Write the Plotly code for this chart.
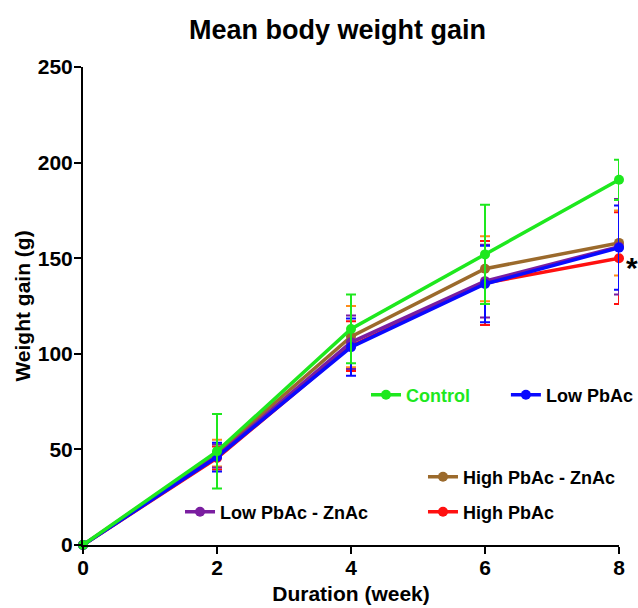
import plotly.graph_objects as go

weeks = [0, 2, 4, 6, 8]

names = ["High PbAc", "High PbAc - ZnAc", "Low PbAc - ZnAc", "Low PbAc", "Control"]
means = {
    "Control":          [0, 49, 113, 152, 191],
    "Low PbAc":         [0, 46, 103.5, 136.5, 155.5],
    "Low PbAc - ZnAc":  [0, 46.5, 106, 138, 156],
    "High PbAc - ZnAc": [0, 48, 109, 144.5, 158],
    "High PbAc":        [0, 45.5, 104, 137, 150],
}
errors = {
    "Control":          [0, 19.5, 18, 26, 10.5],
    "Low PbAc":         [0, 7.5, 15, 20, 22],
    "Low PbAc - ZnAc":  [0, 6, 14, 19, 25],
    "High PbAc - ZnAc": [0, 7, 16, 17, 17],
    "High PbAc":        [0, 6, 13, 22, 24],
}
line_colors = {
    "Control": "#1ee81e",
    "Low PbAc": "#0a0aff",
    "Low PbAc - ZnAc": "#7a1ea0",
    "High PbAc - ZnAc": "#9b6a2c",
    "High PbAc": "#ff1010",
}
err_colors = {
    "Control": "#1ee81e",
    "Low PbAc": "#0a0aff",
    "Low PbAc - ZnAc": "#7a1ea0",
    "High PbAc - ZnAc": "#ff8c1a",
    "High PbAc": "#ff1010",
}
legend_ids = {
    "Control": "legend",
    "Low PbAc": "legend2",
    "High PbAc - ZnAc": "legend3",
    "Low PbAc - ZnAc": "legend4",
    "High PbAc": "legend5",
}
# plot-area-relative positions (x of legend left edge, y of legend centre)
legend_pos = {
    "legend": (0.528, 0.3138),
    "legend2": (0.789, 0.3138),
    "legend3": (0.6343, 0.1423),
    "legend4": (0.181, 0.069),
    "legend5": (0.6343, 0.069),
}

fig = go.Figure()
for n in names:
    fig.add_trace(go.Scatter(
        x=weeks, y=means[n], name=n, mode="lines+markers",
        line=dict(color=line_colors[n], width=3.5),
        marker=dict(color=line_colors[n], size=10),
        error_y=dict(type="data", array=errors[n], visible=True,
                     color=err_colors[n], thickness=2, width=5),
        cliponaxis=False,
        legend=legend_ids[n],
        showlegend=True,
    ))

font_family = "Liberation Sans, Arial, sans-serif"
layout_legends = {}
for lid, (lx, ly) in legend_pos.items():
    txt_color = "#1ee81e" if lid == "legend" else "black"
    layout_legends[lid] = dict(
        x=lx, y=ly, xanchor="left", yanchor="middle",
        bgcolor="rgba(0,0,0,0)", borderwidth=0,
        font=dict(family=font_family, size=18, color=txt_color, weight="bold"),
        itemwidth=30,
    )

fig.add_annotation(x=8, y=150, text="<b>*</b>", showarrow=False,
                   xshift=13, yshift=-9,
                   font=dict(family=font_family, size=30, color="black"))

fig.update_layout(
    width=638, height=608,
    showlegend=True,
    margin=dict(l=83, r=19, t=67, b=63, autoexpand=False),
    paper_bgcolor="white", plot_bgcolor="white",
    title=dict(text="<b>Mean body weight gain</b>", x=337.5 / 638, xanchor="center",
               y=1 - 30 / 608, yanchor="middle",
               font=dict(family=font_family, size=27, color="black")),
    xaxis=dict(range=[0, 8], tickvals=[0, 2, 4, 6, 8], showgrid=False, zeroline=False,
               showline=True, linecolor="black", linewidth=2, automargin=False,
               ticks="outside", ticklen=7, tickwidth=2, tickcolor="black",
               ticklabelstandoff=-4,
               tickfont=dict(family=font_family, size=21, color="black", weight="bold"),
               title=dict(text="<b>Duration (week)</b>", standoff=8,
                          font=dict(family=font_family, size=21, color="black"))),
    yaxis=dict(range=[0, 250], tickvals=[0, 50, 100, 150, 200, 250], showgrid=False,
               zeroline=False, showline=True, linecolor="black", linewidth=2,
               automargin=False,
               ticks="outside", ticklen=7, tickwidth=2, tickcolor="black",
               ticklabelstandoff=-3,
               tickfont=dict(family=font_family, size=21, color="black", weight="bold"),
               title=dict(text="<b>Weight gain (g)</b>", standoff=1,
                          font=dict(family=font_family, size=21, color="black"))),
    **layout_legends,
)

fig.write_html("out.html", config={"displayModeBar": False},
               post_script="document.body.style.margin='0px';")
